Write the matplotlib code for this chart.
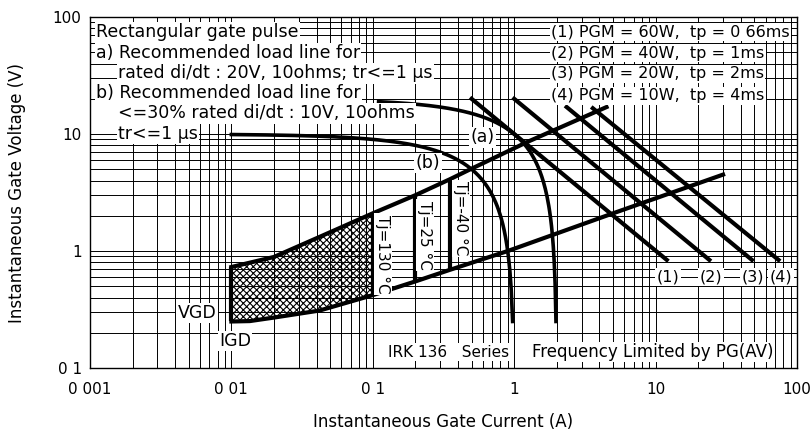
import numpy as np
import matplotlib.pyplot as plt

plt.rcParams['font.family'] = ['DejaVu Sans']
plt.rcParams['hatch.linewidth'] = 0.8

# gate characteristic boundaries (current A, voltage V)
upper_i = [0.01, 0.02, 0.042, 0.1, 0.2, 0.35, 0.49, 1.25, 4.5]
upper_v = [0.73, 0.89, 1.32, 2.1, 3.0, 4.1, 5.0, 8.6, 17]
lower_i = [0.01, 0.0135, 0.02, 0.042, 0.1, 0.2, 0.35, 0.9, 5, 30]
lower_v = [0.25, 0.252, 0.27, 0.31, 0.42, 0.55, 0.69, 1.0, 2.1, 4.5]

# junction temperature limits
tj_labels = ['Tj=130 °C', 'Tj=25 °C', 'Tj=-40 °C']
tj_i = [0.1, 0.2, 0.35]
tj_vlow = [0.42, 0.55, 0.69]
tj_vhigh = [2.1, 3.0, 4.1]

# load lines: source voltage, resistance, current range
load_names = ['(a)', '(b)']
load_e = [20, 10]
load_r = [10, 10]
load_imin = [0.11, 0.01]
load_imax = [1.975, 0.975]

# peak gate power lines
pgm_labels = ['(1)', '(2)', '(3)', '(4)']
pgm_i0 = [0.5, 1.0, 2.35, 3.6]
pgm_v0 = [20, 20, 17, 16.6]
pgm_i1 = [12, 24, 48, 74]
pgm_v1 = [0.84, 0.84, 0.84, 0.84]

xticks = [0.001, 0.01, 0.1, 1, 10, 100]
xticklabels = ['0 001', '0 01', '0 1', '1', '10', '100']
yticks = [0.1, 1, 10, 100]
yticklabels = ['0 1', '1', '10', '100']

fig = plt.figure(figsize=(8.12, 4.33), dpi=100)
ax = fig.add_axes([0.1108, 0.150, 0.8707, 0.8107])
ax.set_xscale('log')
ax.set_yscale('log')
ax.set_xlim(0.001, 100)
ax.set_ylim(0.1, 100)
ax.set_axisbelow(True)
ax.grid(True, which='both', color='black', lw=0.7)
ax.set_xticks(xticks)
ax.set_xticklabels(xticklabels)
ax.set_yticks(yticks)
ax.set_yticklabels(yticklabels)
ax.xaxis.set_minor_formatter(plt.NullFormatter())
ax.yaxis.set_minor_formatter(plt.NullFormatter())
ax.tick_params(which='both', length=0, labelsize=11)
ax.tick_params(axis='x', pad=10)
ax.tick_params(axis='y', pad=6)
for s in ax.spines.values():
    s.set_linewidth(1.0)

ax.set_xlabel('Instantaneous Gate Current (A)', fontsize=12)
ax.xaxis.set_label_coords(0.5, -0.128)
ax.set_ylabel('Instantaneous Gate Voltage (V)', fontsize=12)
ax.yaxis.set_label_coords(-0.09, 0.5)

lw = 3.0

# hatched region of possible triggering (0.01 .. 0.1 A)
n_up = upper_i.index(0.1) + 1
n_lo = lower_i.index(0.1) + 1
poly_i = upper_i[:n_up] + lower_i[:n_lo][::-1]
poly_v = upper_v[:n_up] + lower_v[:n_lo][::-1]
ax.fill(poly_i, poly_v, facecolor='none', edgecolor='black', hatch='xxxxx', lw=0, zorder=1.5)

ax.plot(upper_i, upper_v, color='black', lw=lw, zorder=3)
ax.plot(lower_i, lower_v, color='black', lw=lw, zorder=3)
ax.vlines(0.01, lower_v[0], upper_v[0], color='black', lw=lw, zorder=3)
ax.vlines(tj_i, tj_vlow, tj_vhigh, color='black', lw=lw, zorder=3)

for e, r, i0, i1 in zip(load_e, load_r, load_imin, load_imax):
    cur = np.geomspace(i0, i1, 200)
    ax.plot(cur, e - r * cur, color='black', lw=2.6, zorder=3)

for i0, v0, i1, v1 in zip(pgm_i0, pgm_v0, pgm_i1, pgm_v1):
    ax.plot([i0, i1], [v0, v1], color='black', lw=lw, zorder=3)

box = dict(facecolor='white', edgecolor='none', pad=1.0)
fs = 12.5

left_lines = [
    (0.0085, 0.957, 'Rectangular gate pulse'),
    (0.0085, 0.897, 'a) Recommended load line for'),
    (0.0396, 0.840, 'rated di/dt : 20V, 10ohms; tr<=1 µs'),
    (0.0085, 0.783, 'b) Recommended load line for'),
    (0.0396, 0.726, '<=30% rated di/dt : 10V, 10ohms'),
    (0.0396, 0.667, 'tr<=1 µs'),
]
for x, y, t in left_lines:
    ax.text(x, y, t, transform=ax.transAxes, fontsize=fs, ha='left', va='center',
            bbox=box, zorder=5)

right_lines = [
    (0.957, '(1) PGM = 60W,  tp = 0 66ms'),
    (0.897, '(2) PGM = 40W,  tp = 1ms'),
    (0.838, '(3) PGM = 20W,  tp = 2ms'),
    (0.775, '(4) PGM = 10W,  tp = 4ms'),
]
for y, t in right_lines:
    ax.text(0.652, y, t, transform=ax.transAxes, fontsize=11.5, ha='left', va='center',
            bbox=box, zorder=5)

ax.text(0.60, 9.4, load_names[0], fontsize=fs, ha='center', va='center', bbox=box, zorder=5)
ax.text(0.246, 5.65, load_names[1], fontsize=fs, ha='center', va='center', bbox=box, zorder=5)

tj_pos = [(0.118, 0.94), (0.234, 1.37), (0.42, 1.91)]
for (x, y), t in zip(tj_pos, tj_labels):
    ax.text(x, y, t, fontsize=11, rotation=-90, ha='center', va='center',
            bbox=box, zorder=5)

ax.text(0.00571, 0.295, 'VGD', fontsize=fs, ha='center', va='center', bbox=box, zorder=5)
ax.text(0.0106, 0.170, 'IGD', fontsize=fs, ha='center', va='center', bbox=box, zorder=5)

pgm_lab_i = [12.2, 24.6, 48.9, 77]
for x, t in zip(pgm_lab_i, pgm_labels):
    ax.text(x, 0.60, t, fontsize=11.5, ha='center', va='center', bbox=box, zorder=5)

ax.text(0.4215, 0.0456, 'IRK 136   Series', transform=ax.transAxes, fontsize=11,
        ha='left', va='center', bbox=box, zorder=5)
ax.text(0.625, 0.0456, 'Frequency Limited by PG(AV)', transform=ax.transAxes, fontsize=12,
        ha='left', va='center', bbox=box, zorder=5)

fig.savefig('out.png', dpi=100)
